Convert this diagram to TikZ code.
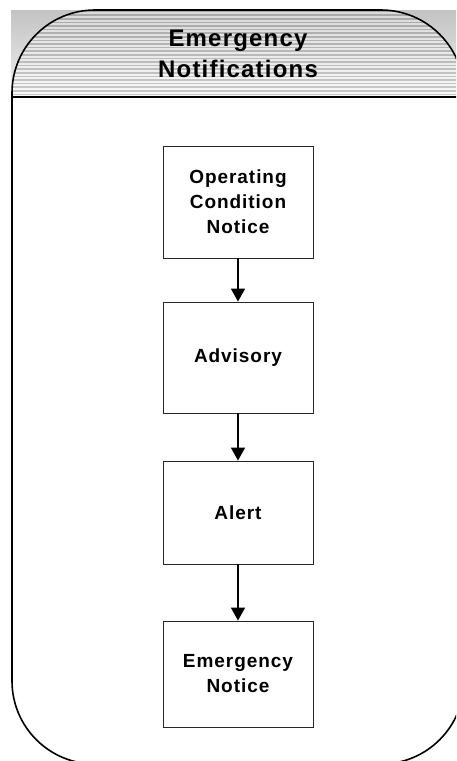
\documentclass[tikz,border=0pt]{standalone}
\usepackage{fontspec}
\setmainfont{Liberation Sans}
\newfontfamily\boxfont[LetterSpace=5,UprightFont={* Bold},BoldFont={* Bold}]{Liberation Sans}
\usetikzlibrary{arrows.meta}
\tikzset{
  stepbox/.style={draw=black!85, line width=0.9pt, fill=white, minimum width=150pt, inner sep=0pt, align=center,
    font=\boxfont\fontsize{19}{25}\selectfont},
  flow/.style={line width=1.5pt, -{Triangle[length=13pt,width=14pt]}},
  headtext/.style={align=center, inner sep=0pt, font=\boxfont\fontsize{24}{31}\selectfont}
}
\begin{document}
\begin{tikzpicture}[x=1pt,y=-1pt]
\useasboundingbox (0,0) rectangle (456,761);
\clip (0,0) rectangle (456,761);
% gradient behind header corners
\shade[top color=gray!47, bottom color=gray!12] (11,10) rectangle (470,97);
% header band inside rounded outline
\begin{scope}
  \clip[rounded corners=83pt] (12,10) rectangle (464,764);
  \fill[white] (0,97) rectangle (470,770);
  \shade[top color=gray!30, bottom color=gray!4] (0,10) rectangle (470,97);
  \foreach \i in {0,...,23}{
    \pgfmathtruncatemacro\c{70-\i*1.2}
    \draw[gray!\c, line width=1.6pt] (0,11.5+\i*3.6) -- (470,11.5+\i*3.6);
  }
\end{scope}
\draw[line width=1.6pt, rounded corners=83pt] (12,10) rectangle (464,764);
\coordinate (sepL) at (12,97);
\coordinate (sepR) at (464,97);
\draw[line width=2pt] (sepL) -- (sepR);
\node[headtext] (title) at (238,54) {Emergency\\Notifications};
% boxes
\node[stepbox, minimum height=112pt] (b1) at (238,202) {Operating\\Condition\\Notice};
\node[stepbox, minimum height=111pt] (b2) at (238,357.5) {Advisory};
\node[stepbox, minimum height=103pt] (b3) at (238,512.5) {Alert};
\node[stepbox, minimum height=106pt] (b4) at (238,674) {Emergency\\Notice};
\draw[flow] (b1) -- (b2);
\draw[flow] (b2) -- (b3);
\draw[flow] (b3) -- (b4);
\end{tikzpicture}
\end{document}
